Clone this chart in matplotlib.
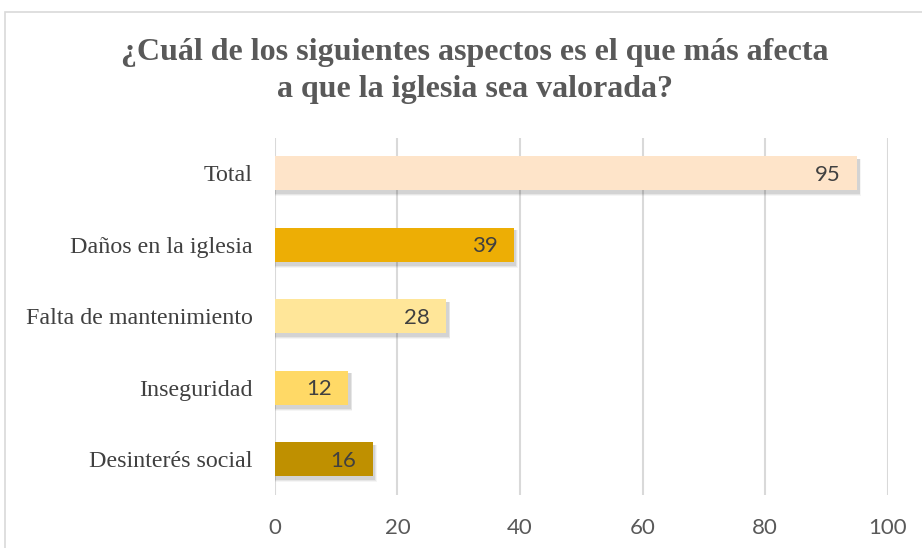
import matplotlib.pyplot as plt
from matplotlib.patches import Rectangle

categorias = ['Total', 'Daños en la iglesia', 'Falta de mantenimiento', 'Inseguridad', 'Desinterés social']
valores = [95, 39, 28, 12, 16]
colores = ['#FEE4C9', '#EDAE05', '#FFE699', '#FFD966', '#BF9000']
ticks = [0, 20, 40, 60, 80, 100]

fig = plt.figure(figsize=(9.22, 5.48), dpi=100)
ax = fig.add_axes([0.298, 0.097, 0.665, 0.652])

# marco exterior del grafico
fig.patches.append(Rectangle((5/922, -0.2), 1.2, 1.2 - 12/548, transform=fig.transFigure,
                             fill=False, edgecolor='#D9D9D9', linewidth=1.2))

y = list(range(len(categorias)))[::-1]
alto = 0.48

# sombra de las barras
for yi, v in zip(y, valores):
    for k, a in enumerate([0.04, 0.06, 0.08]):
        d = 0.014 * (3 - k)
        ax.barh(yi - 0.04 - d * 0.5, v + 0.3 + d * 8, height=alto + d, left=0,
                color='#000000', alpha=a, linewidth=0, zorder=2)

ax.barh(y, valores, height=alto, color=colores, linewidth=0, zorder=3)

for yi, v in zip(y, valores):
    ax.text(v - 2.7, yi - 0.02, str(v), ha='right', va='center', fontsize=16,
            family='Lato', color='#404040', zorder=4)

ax.set_xlim(0, 100)
ax.set_ylim(-0.5, 4.5)
ax.set_xticks(ticks)
ax.set_xticklabels([str(t) for t in ticks], family='Lato', fontsize=16, color='#595959')
ax.set_yticks(y)
ax.set_yticklabels(categorias, family='Liberation Serif', fontsize=17.3, color='#404040')
ax.tick_params(axis='both', length=0)
ax.tick_params(axis='x', pad=17)
ax.tick_params(axis='y', pad=16)
ax.grid(axis='x', color='#D9D9D9', linewidth=1.5, zorder=0)
ax.set_axisbelow(True)
for s in ax.spines.values():
    s.set_visible(False)

fig.text(0.515, 0.87, '¿Cuál de los siguientes aspectos es el que más afecta\na que la iglesia sea valorada?',
         ha='center', va='center', fontsize=23, fontweight='bold', family='Liberation Serif',
         color='#595959', linespacing=1.35)

fig.savefig('out.png', dpi=100)
